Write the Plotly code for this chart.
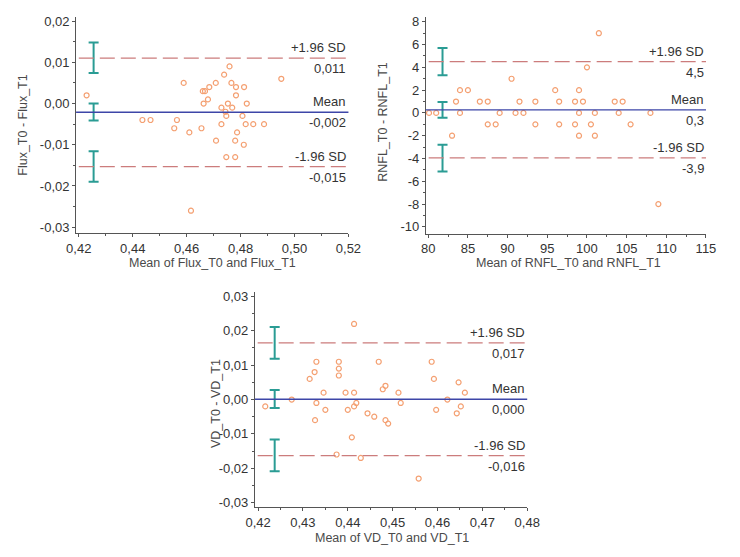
import plotly.graph_objects as go

# ---------------- data ----------------
# Panel 1: Flux
flux_x = [0.4229, 0.4436, 0.4466, 0.4554, 0.4564, 0.4589, 0.4610, 0.4616, 0.4655, 0.4660,
          0.4663, 0.4668, 0.4679, 0.4684, 0.4708, 0.4709, 0.4729, 0.4729, 0.4739, 0.4744,
          0.4747, 0.4747, 0.4753, 0.4759, 0.4766, 0.4769, 0.4780, 0.4780, 0.4783, 0.4783,
          0.4787, 0.4807, 0.4812, 0.4813, 0.4819, 0.4823, 0.4847, 0.4887, 0.4951]
flux_y = [0.002, -0.004, -0.004, -0.006, -0.004, 0.005, -0.007, -0.026, -0.006, 0.003,
          0.000, 0.003, 0.001, 0.004, 0.005, -0.009, -0.001, -0.005, 0.007, -0.002,
          -0.003, -0.013, 0.000, 0.009, 0.005, -0.001, -0.009, -0.013, 0.004, 0.002,
          -0.007, -0.003, -0.010, 0.004, -0.005, 0.000, -0.005, -0.005, 0.006]
flux_lines = [0.0110, -0.0021, -0.0153]          # +1.96 SD, mean, -1.96 SD
flux_ci_low = [0.0074, -0.0041, -0.0190]
flux_ci_high = [0.0148, 0.0000, -0.0116]
flux_ci_x = 0.4255
flux_line_values = ["0,011", "-0,002", "-0,015"]
flux_xtickvals = [0.42, 0.44, 0.46, 0.48, 0.50, 0.52]
flux_xticktext = ["0,42", "0,44", "0,46", "0,48", "0,50", "0,52"]
flux_ytickvals = [0.02, 0.01, 0.0, -0.01, -0.02, -0.03]
flux_yticktext = ["0,02", "0,01", "0,00", "-0,01", "-0,02", "-0,03"]

# Panel 2: RNFL
rnfl_x = [80.1, 81.0, 83.0, 83.5, 84.0, 84.0, 85.0, 86.5, 87.5, 87.5,
          88.5, 89.0, 90.5, 91.0, 91.5, 92.0, 93.5, 93.5, 96.0, 96.5,
          96.5, 98.5, 98.5, 99.0, 99.0, 99.0, 99.5, 100.0, 101.5, 100.5,
          101.0, 101.0, 103.5, 104.0, 104.5, 105.5, 108.0, 109.0]
rnfl_y = [0, 0, -2, 1, 2, 0, 2, 1, 1, -1,
          -1, 0, 3, 0, 1, 0, 1, -1, 2, 1,
          -1, 1, -1, 2, 0, -2, 1, 4, 7, -1,
          0, -2, 1, 0, 1, -1, 0, -8]
rnfl_lines = [4.5, 0.27, -3.95]
rnfl_ci_low = [3.3, -0.43, -5.15]
rnfl_ci_high = [5.7, 0.95, -2.8]
rnfl_ci_x = 81.8
rnfl_line_values = ["4,5", "0,3", "-3,9"]
rnfl_xtickvals = [80, 85, 90, 95, 100, 105, 110, 115]
rnfl_xticktext = ["80", "85", "90", "95", "100", "105", "110", "115"]
rnfl_ytickvals = [8, 6, 4, 2, 0, -2, -4, -6, -8, -10]
rnfl_yticktext = ["8", "6", "4", "2", "0", "-2", "-4", "-6", "-8", "-10"]

# Panel 3: VD
vd_x = [0.4216, 0.4275, 0.4315, 0.4326, 0.4330, 0.4327, 0.4330, 0.4346, 0.4350, 0.4375,
        0.4380, 0.4380, 0.4380, 0.4395, 0.4400, 0.4409, 0.4414, 0.4414, 0.4419, 0.4414,
        0.4429, 0.4444, 0.4459, 0.4469, 0.4478, 0.4484, 0.4484, 0.4490, 0.4513, 0.4518,
        0.4558, 0.4587, 0.4592, 0.4597, 0.4622, 0.4643, 0.4647, 0.4652, 0.4661]
vd_y = [-0.002, 0.000, 0.006, 0.008, 0.011, -0.006, -0.001, 0.002, -0.003, -0.016,
        0.011, 0.009, 0.007, 0.002, -0.003, -0.011, 0.002, -0.002, -0.001, 0.022,
        -0.017, -0.004, -0.005, 0.011, 0.003, 0.004, -0.006, -0.007, 0.002, -0.001,
        -0.023, 0.011, 0.006, -0.003, 0.000, -0.004, 0.005, -0.002, 0.002]
vd_lines = [0.0165, 0.0001, -0.0163]
vd_ci_low = [0.0119, -0.0025, -0.0209]
vd_ci_high = [0.0211, 0.0028, -0.0116]
vd_ci_x = 0.4237
vd_line_values = ["0,017", "0,000", "-0,016"]
vd_xtickvals = [0.42, 0.43, 0.44, 0.45, 0.46, 0.47, 0.48]
vd_xticktext = ["0,42", "0,43", "0,44", "0,45", "0,46", "0,47", "0,48"]
vd_ytickvals = [0.03, 0.02, 0.01, 0.0, -0.01, -0.02, -0.03]
vd_yticktext = ["0,03", "0,02", "0,01", "0,00", "-0,01", "-0,02", "-0,03"]

line_names = ["+1.96 SD", "Mean", "-1.96 SD"]
x_titles = ["Mean of Flux_T0 and Flux_T1", "Mean of RNFL_T0 and RNFL_T1", "Mean of VD_T0 and VD_T1"]
y_titles = ["Flux_T0 - Flux_T1", "RNFL_T0 - RNFL_T1", "VD_T0 - VD_T1"]

# ---------------- styling / layout ----------------
W, H = 740, 557
POINT = "#F4A072"
MEAN = "#3D46A8"
SD = "#CC7C7C"
CI = "#2A9C94"
AX = "#555555"
TXT = "#333333"
FONT = "Arial, Liberation Sans, sans-serif"

panels = [
    dict(x=flux_x, y=flux_y, lines=flux_lines, lo=flux_ci_low, hi=flux_ci_high, cix=flux_ci_x,
         vals=flux_line_values, xtv=flux_xtickvals, xtt=flux_xticktext, ytv=flux_ytickvals, ytt=flux_yticktext,
         xr=[0.419, 0.52], yr=[-0.0315, 0.021], xminor=0.01, yminor=0.005,
         xdom_px=(68.2, 349.3), ydom_px=(14.1, 232.9), xt_pos=(209, 263), yt_pos=(14, 123.5)),
    dict(x=rnfl_x, y=rnfl_y, lines=rnfl_lines, lo=rnfl_ci_low, hi=rnfl_ci_high, cix=rnfl_ci_x,
         vals=rnfl_line_values, xtv=rnfl_xtickvals, xtt=rnfl_xticktext, ytv=rnfl_ytickvals, ytt=rnfl_yticktext,
         xr=[79.7, 115], yr=[-10.6, 8.43], xminor=2.5, yminor=1,
         xdom_px=(429.2, 718.3), ydom_px=(14.05, 233.2), xt_pos=(576, 263), yt_pos=(385, 120)),
    dict(x=vd_x, y=vd_y, lines=vd_lines, lo=vd_ci_low, hi=vd_ci_high, cix=vd_ci_x,
         vals=vd_line_values, xtv=vd_xtickvals, xtt=vd_xticktext, ytv=vd_ytickvals, ytt=vd_yticktext,
         xr=[0.4193, 0.48], yr=[-0.0314, 0.0314], xminor=0.005, yminor=0.005,
         xdom_px=(252.8, 533.8), ydom_px=(291.8, 509.9), xt_pos=(394, 541), yt_pos=(212, 405)),
]

fig = go.Figure()
layout_axes = {}
shapes = []
annotations = []

for i, p in enumerate(panels):
    n = "" if i == 0 else str(i + 1)
    xa, ya = "x" + n, "y" + n

    # scatter points
    fig.add_trace(go.Scatter(
        x=p["x"], y=p["y"], mode="markers", xaxis=xa, yaxis=ya, showlegend=False,
        marker=dict(symbol="circle-open", size=5, color=POINT, line=dict(width=1.2, color=POINT)),
        hoverinfo="x+y"))

    # confidence intervals of mean and limits
    fig.add_trace(go.Scatter(
        x=[p["cix"]] * 3, y=p["lines"], mode="markers", xaxis=xa, yaxis=ya, showlegend=False,
        marker=dict(size=1, color="rgba(0,0,0,0)"),
        error_y=dict(type="data", symmetric=False,
                     array=[h - c for h, c in zip(p["hi"], p["lines"])],
                     arrayminus=[c - l for c, l in zip(p["lines"], p["lo"])],
                     color=CI, thickness=2, width=5),
        hoverinfo="skip"))

    # horizontal lines
    for j, val in enumerate(p["lines"]):
        is_mean = (j == 1)
        shapes.append(dict(
            type="line", xref=xa + " domain", yref=ya, x0=0.01 if not is_mean else 0, x1=1,
            y0=val, y1=val,
            line=dict(color=MEAN if is_mean else SD, width=1.4 if is_mean else 1.3,
                      dash="solid" if is_mean else "15px,6px")))
        annotations.append(dict(
            xref=xa + " domain", yref=ya, x=1, y=val, text=line_names[j], showarrow=False,
            xanchor="right", yanchor="bottom", yshift=1, font=dict(size=13, color=TXT, family=FONT)))
        annotations.append(dict(
            xref=xa + " domain", yref=ya, x=1, y=val, text=p["vals"][j], showarrow=False,
            xanchor="right", yanchor="top", yshift=-1, font=dict(size=13, color=TXT, family=FONT)))

    # axis titles
    annotations.append(dict(
        xref="paper", yref="paper", x=p["xt_pos"][0] / W, y=1 - p["xt_pos"][1] / H,
        text=x_titles[i], showarrow=False, xanchor="center", yanchor="middle",
        font=dict(size=12.5, color="#4a4a4a", family=FONT)))
    annotations.append(dict(
        xref="paper", yref="paper", x=p["yt_pos"][0] / W, y=1 - p["yt_pos"][1] / H,
        text=y_titles[i], showarrow=False, textangle=-90, xanchor="center", yanchor="middle",
        font=dict(size=12.5, color="#4a4a4a", family=FONT)))

    common = dict(showline=True, linecolor=AX, linewidth=1, ticks="outside", ticklen=3,
                  tickcolor=AX, tickwidth=1, showgrid=False, zeroline=False, mirror=False,
                  tickmode="array", tickfont=dict(size=13, color=TXT, family=FONT))
    layout_axes["xaxis" + n] = dict(
        common, domain=[p["xdom_px"][0] / W, p["xdom_px"][1] / W], range=p["xr"],
        anchor=ya, tickvals=p["xtv"], ticktext=p["xtt"],
        minor=dict(ticks="outside", ticklen=2, dtick=p["xminor"], tick0=p["xtv"][0],
                   tickcolor=AX, showgrid=False))
    layout_axes["yaxis" + n] = dict(
        common, domain=[1 - p["ydom_px"][1] / H, 1 - p["ydom_px"][0] / H], range=p["yr"],
        anchor=xa, tickvals=p["ytv"], ticktext=p["ytt"],
        minor=dict(ticks="outside", ticklen=2, dtick=p["yminor"], tick0=0,
                   tickcolor=AX, showgrid=False))

fig.update_layout(
    width=W, height=H, margin=dict(l=0, r=0, t=0, b=0),
    paper_bgcolor="white", plot_bgcolor="white",
    font=dict(family=FONT, color=TXT),
    shapes=shapes, annotations=annotations, showlegend=False,
    **layout_axes)

fig.write_html("out.html", config={"displayModeBar": False},
               post_script="document.body.style.margin='0px';")
